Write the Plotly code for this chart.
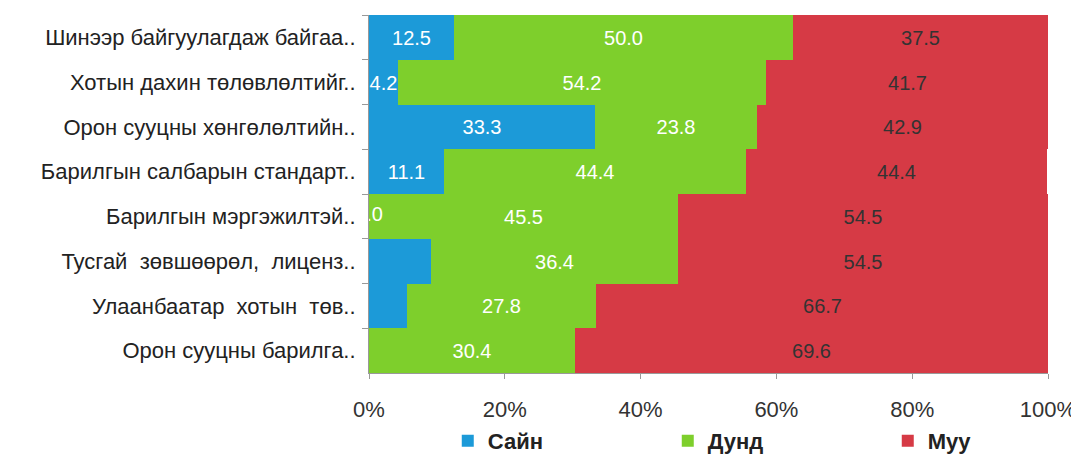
import plotly.graph_objects as go

categories = [
    "Шинээр байгуулагдаж байгаа..",
    "Хотын дахин төлөвлөлтийг..",
    "Орон сууцны хөнгөлөлтийн..",
    "Барилгын салбарын стандарт..",
    "Барилгын мэргэжилтэй..",
    "Тусгай  зөвшөөрөл,  лиценз..",
    "Улаанбаатар  хотын  төв..",
    "Орон сууцны барилга..",
]
sain = [12.5, 4.2, 33.3, 11.1, 0.0, 9.1, 5.6, 0.0]
dund = [50.0, 54.2, 23.8, 44.4, 45.5, 36.4, 27.8, 30.4]
muu = [37.5, 41.7, 42.9, 44.4, 54.5, 54.5, 66.7, 69.6]
sain_labels = ["12.5", "4.2", "33.3", "11.1", "0.0", "", "", ""]
dund_labels = [f"{v:.1f}" for v in dund]
muu_labels = [f"{v:.1f}" for v in muu]
series_names = ["Сайн", "Дунд", "Муу"]
colors = ["#1C9AD8", "#7ECF2C", "#D63A45"]
text_colors = ["white", "white", "#333333"]
tick_vals = [0, 20, 40, 60, 80, 100]
tick_text = ["0%", "20%", "40%", "60%", "80%", "100%"]

FONT = "Liberation Sans, Arial, sans-serif"

fig = go.Figure()
for name, vals, labels, col, tcol in zip(
    series_names, [sain, dund, muu], [sain_labels, dund_labels, muu_labels], colors, text_colors
):
    fig.add_trace(go.Bar(
        y=categories, x=vals, name=name, orientation="h",
        marker=dict(color=col, line=dict(width=0)),
        text=labels, textposition="inside", insidetextanchor="middle",
        constraintext="none", cliponaxis=True, textangle=0,
        textfont=dict(color=tcol, size=20, family=FONT),
        hoverinfo="x+y+name",
    ))

# labels for zero-width segments, clipped by the plot area
zero_y = [c for c, v, l in zip(categories, sain, sain_labels) if v == 0 and l]
zero_t = [l for v, l in zip(sain, sain_labels) if v == 0 and l]
fig.add_trace(go.Scatter(
    x=[0] * len(zero_y), y=zero_y, text=zero_t, mode="text",
    textfont=dict(color="white", size=20, family=FONT),
    cliponaxis=True, showlegend=False, hoverinfo="skip",
))

fig.update_layout(
    barmode="stack", bargap=0,
    width=1071, height=448,
    margin=dict(l=361, r=31, t=7, b=83, autoexpand=False),
    paper_bgcolor="white", plot_bgcolor="white",
    font=dict(family=FONT, size=20, color="#222222"),
    legend=dict(
        orientation="h", x=0.116, xanchor="left", y=-0.19, yanchor="middle",
        entrywidth=175, font=dict(size=22, color="#222222", family=FONT, weight="bold"),
        traceorder="normal", itemwidth=30, bgcolor="rgba(0,0,0,0)",
    ),
)
fig.update_yaxes(
    categoryorder="array", categoryarray=categories, autorange="reversed",
    showline=True, linecolor="#999999", linewidth=1,
    ticks="outside", ticklen=6, tickcolor="#999999",
    tickson="boundaries", ticklabelstandoff=8, automargin=False,
    tickfont=dict(size=22, color="#222222"),
)
fig.update_xaxes(
    range=[0, 100], tickvals=tick_vals, ticktext=tick_text,
    showline=True, linecolor="#999999", linewidth=1,
    ticks="outside", ticklen=5, tickcolor="#999999",
    showgrid=False, zeroline=False, automargin=False,
    tickfont=dict(size=22, color="#333333"),
    ticklabelstandoff=12, ticklabeloverflow="allow",
)

fig.write_html("out.html")
